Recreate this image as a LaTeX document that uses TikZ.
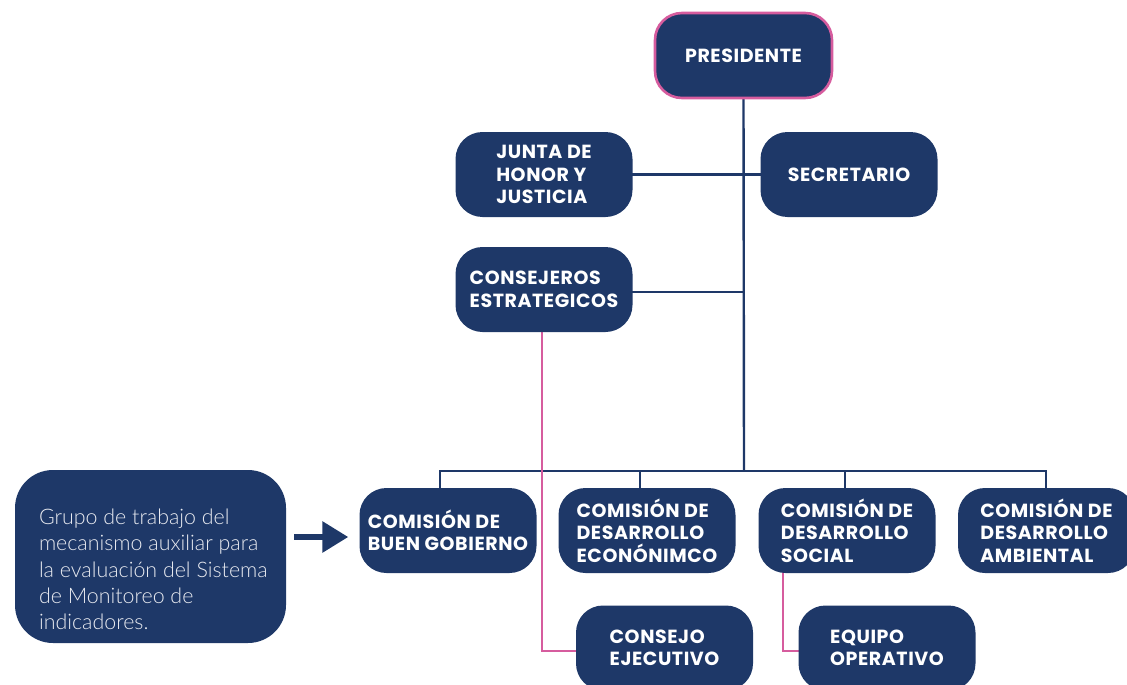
\documentclass[tikz,border=0pt]{standalone}
\usepackage{fontspec}
\usetikzlibrary{arrows.meta}
\newfontfamily\boxfont{Poppins}[LetterSpace=3]
\newfontfamily\latofont{Lato}[UprightFont=* Light]
\definecolor{navy}{RGB}{30,56,104}
\definecolor{rosa}{RGB}{214,92,158}
\definecolor{softwhite}{RGB}{232,234,240}
\tikzset{
  orgbox/.style={fill=navy, rounded corners=27pt, minimum width=177pt, minimum height=85pt,
    text=white, align=left, inner sep=0pt,
    font=\boxfont\bfseries\fontsize{19}{22.5}\selectfont},
  bigbox/.style={fill=navy, rounded corners=38pt, minimum width=271pt, minimum height=173pt, inner sep=0pt},
  grupotext/.style={text=softwhite, align=left, inner sep=0pt, anchor=west,
    font=\latofont\fontsize{21.4}{26.3}\selectfont},
  link/.style={draw=navy, line width=2.4pt},
  pinklink/.style={draw=rosa, line width=2.2pt},
  bigarrow/.style={draw=navy, line width=6pt, -{Triangle[length=26pt,width=30pt]}}
}
\begin{document}
\begin{tikzpicture}[x=1pt,y=-1pt]
\useasboundingbox (0,0) rectangle (1127,685);
\clip (0,0) rectangle (1127,685);
% junction coordinates
\coordinate (bar) at (744,471);
\coordinate (ay) at (0,537);
\coordinate (py) at (0,651);
% connectors (drawn first, boxes on top)
\coordinate (presS) at (743.5,98);
\draw[link] (presS) -- (bar);
\coordinate (juntaE) at (632,174.5);
\coordinate (secrW) at (761,174.5);
\draw[link] (juntaE) -- (secrW);
\draw[link] (632,292) -- (744,292);
\draw[link] (440,489) -- (440,471) -- (1046,471) -- (1046,489);
\draw[link] (640,471) -- (640,489);
\draw[link] (845,471) -- (845,489);
\draw[pinklink] (542,331) -- (542,651) -- (576,651);
\draw[pinklink] (783,572) -- (783,651) -- (799,651);
% nodes
\node[orgbox, draw=rosa, line width=2.6pt] (pres) at (743.5,55.5) {PRESIDENTE};
\node[orgbox] (junta) at (544,174.5) {JUNTA DE\\HONOR Y\\JUSTICIA};
\node[orgbox] (secr) at (849,174.5) {SECRETARIO};
\node[orgbox] (cons) at (544,289.5) {CONSEJEROS\\ESTRATEGICOS};
\node[orgbox] (bg) at (448,530.5) {COMISIÓN DE\\BUEN GOBIERNO};
\node[orgbox] (econ) at (647,530.5) {COMISIÓN DE\\DESARROLLO\\ECONÓNIMCO};
\node[orgbox] (soc) at (847,530.5) {COMISIÓN DE\\DESARROLLO\\SOCIAL};
\node[orgbox] (amb) at (1046.5,530.5) {COMISIÓN DE\\DESARROLLO\\AMBIENTAL};
\node[orgbox] (cej) at (664.5,648) {CONSEJO\\EJECUTIVO};
\node[orgbox] (eop) at (887,648) {EQUIPO\\OPERATIVO};
\node[bigbox] (grupo) at (150.5,556.5) {};
\node[grupotext] (gtext) at ([xshift=24pt,yshift=-13pt]grupo.west)
  {Grupo de trabajo del\\mecanismo auxiliar para\\la evaluación del Sistema\\de Monitoreo de\\indicadores.};
\draw[bigarrow, shorten <=8pt, shorten >=11pt] (grupo.east |- ay) -- (bg.west |- ay);
\end{tikzpicture}
\end{document}
